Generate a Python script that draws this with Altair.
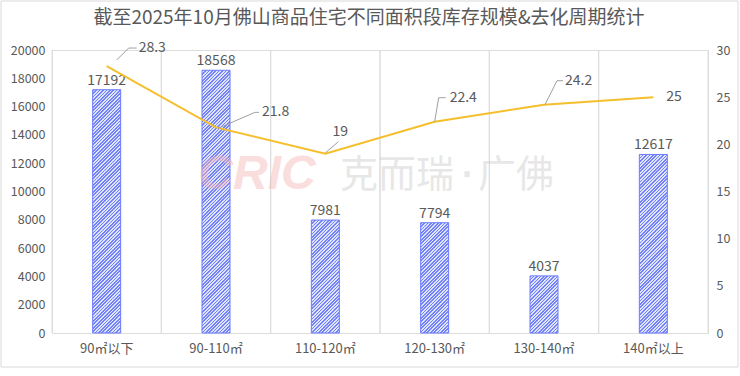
import altair as alt
import pandas as pd

categories = ["90㎡以下", "90-110㎡", "110-120㎡", "120-130㎡", "130-140㎡", "140㎡以上"]
stock = [17192, 18568, 7981, 7794, 4037, 12617]
cycle = [28.3, 21.8, 19, 22.4, 24.2, 25]
stock_ticks = [0, 2000, 4000, 6000, 8000, 10000, 12000, 14000, 16000, 18000, 20000]
cycle_ticks = [0, 5, 10, 15, 20, 25, 30]

TITLE = "截至2025年10月佛山商品住宅不同面积段库存规模&去化周期统计"
FONT = "Noto Sans CJK SC"
TXT = "#595959"
W, H = 656, 283
BAR_W = 28
Y1_MAX, Y2_MAX = 20000, 30


def hatch(value):
    """Diagonal hatch fill built as a hard-stop linear gradient."""
    h = value / Y1_MAX * H
    w = BAR_W
    L = w + h
    k = L / (w * w + h * h)
    p = 3.4
    stops = []
    j = 0
    dark, light = "#7283f8", "#dfe3ff"
    while j * p < L:
        t0 = j * p / L
        t1 = min((j * p + p / 2) / L, 1)
        t2 = min((j + 1) * p / L, 1)
        stops += [
            {"offset": round(t0, 5), "color": dark},
            {"offset": round(t1, 5), "color": dark},
            {"offset": round(t1, 5), "color": light},
            {"offset": round(t2, 5), "color": light},
        ]
        j += 1
    return {"gradient": "linear", "x1": 0, "y1": 0, "x2": w * k, "y2": h * k, "stops": stops}


df = pd.DataFrame({"cat": categories, "stock": stock, "cycle": cycle})
df["grad"] = [hatch(v) for v in stock]

xscale = alt.Scale(paddingInner=0, paddingOuter=0)
x_axis = alt.Axis(title=None, domain=False, ticks=False, grid=False, labelAngle=0,
                  labelFont=FONT, labelFontSize=13, labelColor=TXT, labelPadding=9)
y1_axis = alt.Axis(title=None, orient="left", values=stock_ticks, format="d",
                   labelOverlap=False, domain=False, ticks=False, grid=False,
                   labelFont=FONT, labelFontSize=12.5, labelColor=TXT, labelPadding=7)
y2_axis = alt.Axis(title=None, orient="right", values=cycle_ticks, format="d",
                   labelOverlap=False, domain=False, ticks=False, grid=False,
                   labelFont=FONT, labelFontSize=12.5, labelColor=TXT, labelPadding=8)
y1_scale = alt.Scale(domain=[0, Y1_MAX])
y2_scale = alt.Scale(domain=[0, Y2_MAX])


def X(**kw):
    return alt.X("cat:N", sort=categories, scale=xscale, axis=x_axis, **kw)


def Y1():
    return alt.Y("stock:Q", scale=y1_scale, axis=y1_axis)


def Y2():
    return alt.Y("cycle:Q", scale=y2_scale, axis=y2_axis)


base = alt.Chart(df)
one = alt.Data(values=[{}])

grid0 = base.mark_rule(color="#dcdcdc", strokeWidth=1).encode(x=X(bandPosition=0))
grid1 = base.mark_rule(color="#dcdcdc", strokeWidth=1).encode(x=X(bandPosition=1))

frame = alt.Chart(one).mark_rect(filled=False, stroke="#d9d9d9", strokeWidth=1).encode(
    x=alt.value(-51), x2=alt.value(686), y=alt.value(-49), y2=alt.value(317))

title = alt.Chart(one).mark_text(
    text=TITLE, font=FONT, fontSize=19, color=TXT, align="center", baseline="middle").encode(
    x=alt.value(317), y=alt.value(-32))

wm_cric = alt.Chart(one).mark_text(
    text="CRIC", font="Liberation Sans", fontSize=48, fontWeight="bold", fontStyle="italic",
    color="#f5b5b5", opacity=0.45, align="center", baseline="middle").encode(
    x=alt.value(205), y=alt.value(125))
wm_a = alt.Chart(one).mark_text(
    text="克而瑞", font=FONT, fontSize=38, color="#cccccc", opacity=0.45,
    align="center", baseline="middle").encode(x=alt.value(345), y=alt.value(126))
wm_b = alt.Chart(one).mark_text(
    text="·", font="Liberation Sans", fontSize=38, fontWeight="bold", color="#cccccc", opacity=0.45,
    align="center", baseline="middle").encode(x=alt.value(416), y=alt.value(126))
wm_c = alt.Chart(one).mark_text(
    text="广佛", font=FONT, fontSize=38, color="#cccccc", opacity=0.45,
    align="center", baseline="middle").encode(x=alt.value(464), y=alt.value(126))

bars = base.mark_bar(size=BAR_W, stroke="#6a7bff", strokeWidth=1).encode(
    x=X(), y=Y1(),
    fill=alt.Fill("grad:N", scale=None, legend=None),
)
bar_labels = base.mark_text(font=FONT, fontSize=14, color=TXT, baseline="bottom", dy=-2).encode(
    x=X(), y=Y1(), text=alt.Text("stock:Q", format="d"),
)

left_layer = alt.layer(frame, title, grid0, grid1, bars, wm_cric, wm_a, wm_b, wm_c, bar_labels)

line = base.mark_line(color="#f5bf2c", strokeWidth=2).encode(x=X(), y=Y2())

# label placement per point: (text dx, text dy, align, leader segments)
label_spec = [
    (32, -18, "left", [((10, -6), (22, -18)), ((22, -18), (30, -18))]),
    (46, -15, "left", [((2, 1), (39, -15)), ((39, -15), (43, -15))]),
    (15, -22, "center", [((0, -1), (13, -12))]),
    (15, -24, "left", [((0, 0), (4, -24)), ((4, -24), (11, -24))]),
    (21, -24, "left", [((1, 0), (13, -24)), ((13, -24), (19, -24))]),
    (13, 0, "left", []),
]

line_layers = [line]
for cat, (dx, dy, al, segs) in zip(categories, label_spec):
    sub = base.transform_filter(alt.datum.cat == cat)
    line_layers.append(sub.mark_text(font=FONT, fontSize=14, color=TXT, align=al,
                                     baseline="middle", dx=dx, dy=dy).encode(
        x=X(), y=Y2(), text=alt.Text("cycle:Q"),
    ))
    for (sx, sy), (ex, ey) in segs:
        line_layers.append(sub.mark_rule(color="#a0a0a0", strokeWidth=1,
                                         xOffset=sx, yOffset=sy, x2Offset=ex, y2Offset=ey).encode(
            x=X(), x2=alt.X2("cat"), y=Y2(), y2=alt.Y2("cycle"),
        ))

right_layer = alt.layer(*line_layers)

chart = alt.layer(left_layer, right_layer).resolve_scale(y="independent").properties(
    width=W, height=H,
    autosize=alt.AutoSizeParams(type="none"),
    padding={"left": 52, "top": 50, "right": 32, "bottom": 43},
).configure_view(stroke=None).configure(background="white")

chart.save("out.html", embed_options={"renderer": "svg", "actions": False})
